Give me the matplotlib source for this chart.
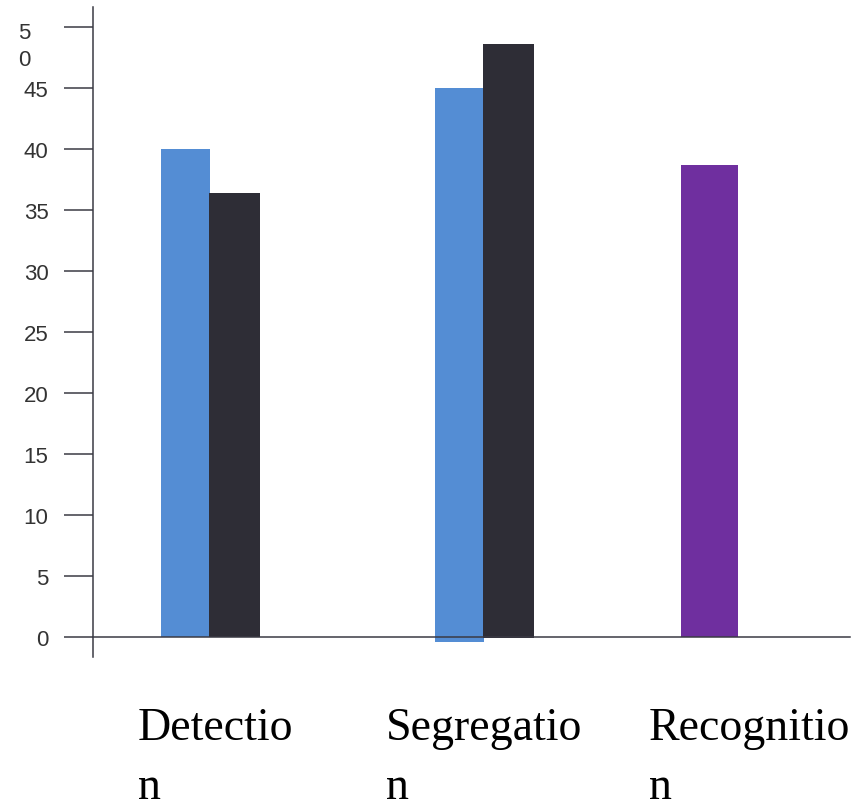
import numpy as np
import matplotlib
matplotlib.use("Agg")
import matplotlib.pyplot as plt

# data
categories = ["Detectio\nn", "Segregatio\nn", "Recognitio\nn"]
blue_vals = [40.0, 45.0]      # Detection, Segregation (seg blue dips a bit below 0)
blue_base = [0.0, -0.4]
dark_vals = [36.4, 48.6]
dark_base = [0.0, -0.1]
purple_vals = [38.7]          # Recognition only
y_ticks = [0, 5, 10, 15, 20, 25, 30, 35, 40, 45, 50]
y_tick_labels = ["0", "5", "10", "15", "20", "25", "30", "35", "40", "45", ""]

# layout
group_x = np.array([0.0, 1.0, 1.823])
label_x = [0.02, 1.0, 1.97]
BAR_W = 0.18
BLUE = "#548dd4"
DARK = "#2e2d36"
PURPLE = "#6f2f9f"
AXIS_C = "#3a3a44"

fig = plt.figure(figsize=(8.6, 8.04), dpi=100)
ax = fig.add_axes([93 / 860, 146 / 804, 757 / 860, 650 / 804])

ax.bar(group_x[:2] - BAR_W / 2, np.array(blue_vals) - np.array(blue_base),
       bottom=blue_base, width=BAR_W, color=BLUE, zorder=1)
ax.bar(group_x[:2] + BAR_W / 2, np.array(dark_vals) - np.array(dark_base),
       bottom=dark_base, width=BAR_W * 1.04, color=DARK, zorder=1)
ax.bar(group_x[2:], purple_vals, width=BAR_W * 1.15, color=PURPLE, zorder=1)

ax.set_xlim(-0.427, 2.336)
ax.set_ylim(-1.64, 51.64)

for s in ["top", "right"]:
    ax.spines[s].set_visible(False)
ax.spines["bottom"].set_position(("data", 0))
ax.spines["bottom"].set_zorder(3)
for s in ["left", "bottom"]:
    ax.spines[s].set_color(AXIS_C)
    ax.spines[s].set_linewidth(1.1)

ax.set_xticks([])
ax.set_yticks(y_ticks)
ax.set_yticklabels(y_tick_labels, fontfamily="Liberation Sans", fontsize=16,
                   color="#333333")
ax.tick_params(axis="y", length=21, width=1.1, color=AXIS_C, pad=11)

# the wrapped "50" label
ax.annotate("5\n0", xy=(0, 50), xycoords=("axes fraction", "data"),
            xytext=(-75, 5), textcoords="offset pixels", ha="left", va="top",
            fontfamily="Liberation Sans", fontsize=16, color="#333333",
            linespacing=1.35, annotation_clip=False)

# category labels below the axis (wrapped, second line flush left)
for lx, lab in zip(label_x, categories):
    ax.text(lx, -5.7, lab, ha="center", va="top", multialignment="left",
            fontfamily="Liberation Serif", fontsize=33, linespacing=1.5,
            color="black", clip_on=False)

fig.savefig("out.png", dpi=100)
